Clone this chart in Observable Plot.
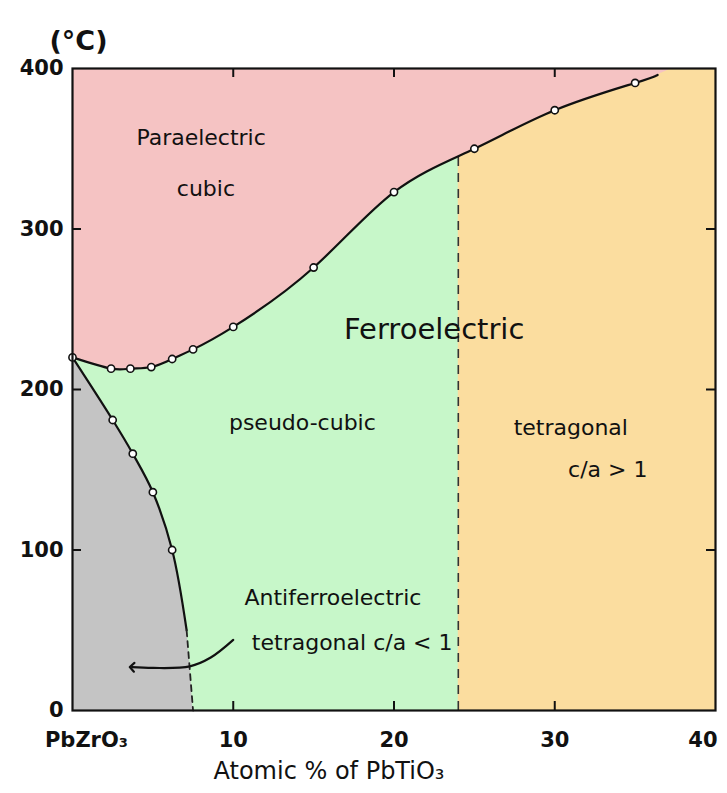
<!DOCTYPE html>
<html>
<head>
<meta charset="utf-8">
<script src="https://cdn.jsdelivr.net/npm/d3@7"></script>
<script src="https://cdn.jsdelivr.net/npm/@observablehq/plot@0.6"></script>
<style>
  body { margin: 0; background: #fff; }
</style>
</head>
<body>
<div id="chart"></div>
<script>
// ---- Data ----
// Curie line (paraelectric / ferroelectric boundary): measured points
const curieX = [0, 2.4, 3.6, 4.9, 6.2, 7.5, 10, 15, 20, 25, 30, 35];
const curieT = [220, 213, 213, 214, 219, 225, 239, 276, 323, 350, 374, 391];
// end of the drawn Curie line and where that boundary meets the top edge
const curieEndX = [36.4, 37.3];
const curieEndT = [396, 400];

// Antiferroelectric boundary: measured points
const afeX = [0, 2.5, 3.75, 5, 6.2];
const afeT = [220, 181, 160, 136, 100];
// drawn continuation: solid to first, dashed to second
const afeTailX = [7.1, 7.5];
const afeTailT = [50, 0];

// Morphotropic boundary (pseudo-cubic | tetragonal), dashed
const mpbX = 24;
const mpbTop = 345;

// Arrow pointing into antiferroelectric region
const arrowX = [10.0, 8.6, 7.3, 5.0, 3.7];
const arrowT = [44, 33, 27.5, 26.5, 27];

// Axes
const xDomain = [0, 40];
const yDomain = [0, 400];
const yTicks = [0, 100, 200, 300, 400];
const xFirstTick = [0];
const xMidTicks = [10, 20, 30];
const xLastTick = [40];
const xFirstLabel = "PbZrO₃";
const xInnerTicks = [10, 20, 30];
const yInnerTicks = [100, 200, 300];

// Region labels
const labelText = ["Paraelectric", "cubic", "Ferroelectric", "pseudo-cubic", "tetragonal", "c/a > 1", "Antiferroelectric", "tetragonal c/a < 1"];
const labelX = [8.0, 8.3, 22.5, 14.3, 31, 33.3, 16.2, 17.4];
const labelT = [357, 325, 237, 179, 176, 150, 70, 42];
const labelSize = [22, 22, 29, 22, 22, 22, 22, 22];

// ---- Build tables ----
const curiePts = curieX.map((x, i) => ({x, t: curieT[i]}));
const curieLine = [...curiePts, {x: curieEndX[0], t: curieEndT[0]}];
const curieArea = [...curieLine, {x: curieEndX[1], t: curieEndT[1]}];
const afePts = afeX.map((x, i) => ({x, t: afeT[i]}));
const afeSolid = [...afePts, {x: afeTailX[0], t: afeTailT[0]}];
const afeDashed = [{x: afeTailX[0], t: afeTailT[0]}, {x: afeTailX[1], t: afeTailT[1]}];
const afeArea = [...afeSolid, afeDashed[1]];
const arrowPts = arrowX.map((x, i) => ({x, t: arrowT[i]}));
const labels = labelText.map((s, i) => ({s, x: labelX[i], t: labelT[i], f: labelSize[i]}));

const colors = {
  pink: "#f5c3c3",
  green: "#c7f7c9",
  orange: "#fbdd9f",
  gray: "#c4c4c4"
};

const W = 727, H = 793;
const mL = 72, mR = 12, mT = 68, mB = 83;
const innerW = W - mL - mR, innerH = H - mT - mB;
const tickLen = 9;
const FONT = "DejaVu Sans, sans-serif";
const axisFont = {tickSize: 0, tickPadding: 22, fontSize: 21, fontWeight: "bold", label: null};

const chart = Plot.plot({
  width: W,
  height: H,
  marginLeft: mL,
  marginRight: mR,
  marginTop: mT,
  marginBottom: mB,
  x: {domain: xDomain},
  y: {domain: yDomain},
  style: {fontFamily: FONT, background: "#fff", color: "#111", overflow: "visible"},
  marks: [
    // background regions
    Plot.rect([{x1: xDomain[0], x2: xDomain[1], y1: yDomain[0], y2: yDomain[1]}], {x1: "x1", x2: "x2", y1: "y1", y2: "y2", fill: colors.green}),
    Plot.rect([{x1: mpbX, x2: xDomain[1], y1: yDomain[0], y2: yDomain[1]}], {x1: "x1", x2: "x2", y1: "y1", y2: "y2", fill: colors.orange}),
    Plot.areaY(curieArea, {x: "x", y1: "t", y2: yDomain[1], fill: colors.pink, curve: "natural"}),
    Plot.areaX(afeArea, {y: "t", x1: xDomain[0], x2: "x", fill: colors.gray, curve: "catmull-rom"}),

    // boundaries
    Plot.ruleX([mpbX], {y1: 0, y2: mpbTop, stroke: "#333", strokeWidth: 1.6, strokeDasharray: "9,7"}),
    Plot.line(curieLine, {x: "x", y: "t", stroke: "#111", strokeWidth: 2.2, curve: "natural"}),
    Plot.line(afeSolid, {x: "x", y: "t", stroke: "#111", strokeWidth: 2.2, curve: "catmull-rom"}),
    Plot.line(afeDashed, {x: "x", y: "t", stroke: "#222", strokeWidth: 1.8, strokeDasharray: "6,5"}),
    Plot.dot(curiePts, {x: "x", y: "t", r: 3.6, fill: "#fff", stroke: "#111", strokeWidth: 1.6}),
    Plot.dot(afePts.slice(1), {x: "x", y: "t", r: 3.6, fill: "#fff", stroke: "#111", strokeWidth: 1.6}),

    // arrow
    Plot.line(arrowPts, {x: "x", y: "t", stroke: "#111", strokeWidth: 2.2, curve: "catmull-rom", markerEnd: "arrow"}),

    // frame & inner ticks
    Plot.frame({stroke: "#111", strokeWidth: 2.2}),
    Plot.ruleX(xInnerTicks, {insetTop: innerH - tickLen, stroke: "#111", strokeWidth: 2}),
    Plot.ruleX(xInnerTicks, {insetBottom: innerH - tickLen, stroke: "#111", strokeWidth: 2}),
    Plot.ruleY(yInnerTicks, {insetRight: innerW - tickLen, stroke: "#111", strokeWidth: 2}),
    Plot.ruleY(yInnerTicks, {insetLeft: innerW - tickLen, stroke: "#111", strokeWidth: 2}),

    // axes labels
    Plot.axisY({ticks: yTicks, tickSize: 0, tickPadding: 9, fontSize: 21, fontWeight: "bold", label: null}),
    Plot.axisX({...axisFont, ticks: xFirstTick, tickFormat: () => xFirstLabel, dx: 14}),
    Plot.axisX({...axisFont, ticks: xMidTicks}),
    Plot.axisX({...axisFont, ticks: xLastTick, textAnchor: "end", dx: 2}),
    Plot.text(["(°C)"], {frameAnchor: "top-left", dx: 6, dy: -38, fontSize: 27, fontWeight: "bold", textAnchor: "middle"}),
    Plot.text(["Atomic % of PbTiO₃"], {frameAnchor: "bottom-left", dx: 141, dy: 68, fontSize: 24, textAnchor: "start"}),

    // region labels
    Plot.text(labels, {x: "x", y: "t", text: "s", fontSize: d => d.f, fill: "#111"})
  ]
});

document.getElementById("chart").appendChild(chart);
</script>
</body>
</html>
